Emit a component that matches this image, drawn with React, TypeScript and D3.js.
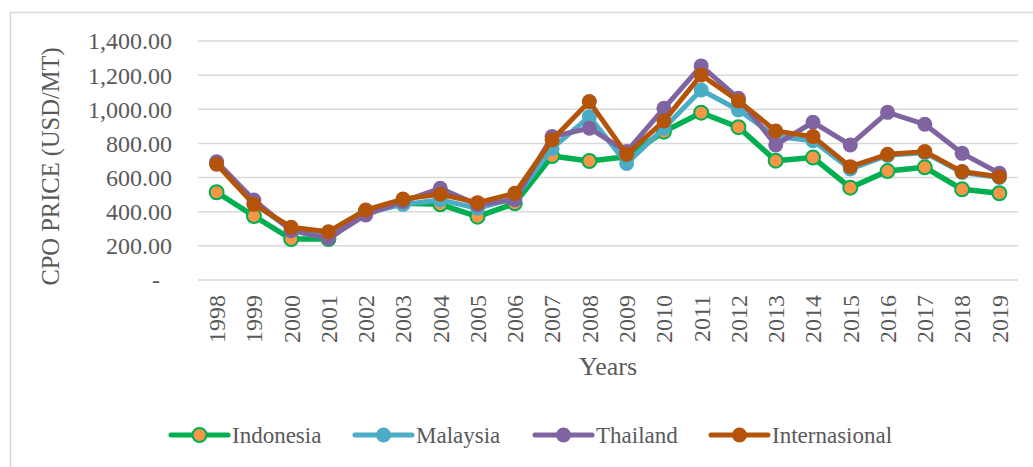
import React from "react";
import * as d3 from "d3";

const years = ["1998","1999","2000","2001","2002","2003","2004","2005","2006","2007","2008","2009","2010","2011","2012","2013","2014","2015","2016","2017","2018","2019"];
const indonesia = [514,375,240,240,400,449,443,371,449,726,697,722,869,980,895,699,717,541,638,660,531,508];
const malaysia = [682,450,295,255,390,443,469,420,480,771,957,683,889,1113,996,840,816,650,730,745,630,600];
const thailand = [693,469,289,244,381,460,537,440,470,840,889,752,1006,1254,1064,791,924,791,982,912,742,625];
const internasional = [678,443,309,283,410,474,502,453,508,820,1045,736,931,1201,1049,873,840,664,736,752,635,605];
const yTicks = [0,200,400,600,800,1000,1200,1400];
const seriesNames = ["Indonesia","Malaysia","Thailand","Internasional"];

const W = 1033, H = 467;
const FONT = "'Liberation Serif', 'Times New Roman', serif";
const TXT = "#595959";

const seriesStyle = [
  { line: "#00B050", fill: "#F79646", stroke: "#00B050" },
  { line: "#4BACC6", fill: "#4BACC6", stroke: "#4BACC6" },
  { line: "#8064A2", fill: "#8064A2", stroke: "#8064A2" },
  { line: "#B4540A", fill: "#B4540A", stroke: "#B4540A" },
];
const legendX = [171, 355, 535, 711];

export default function App() {
  const x = d3.scaleBand<string>().domain(years).range([198, 1018]);
  const y = d3.scaleLinear().domain([0, 1400]).range([280, 41]);
  const cx = (yr: string) => (x(yr) as number) + x.bandwidth() / 2;
  const data = [indonesia, malaysia, thailand, internasional];
  const line = d3.line<number>().x((_, i) => cx(years[i])).y((v) => y(v));
  const fmt = d3.format(",.2f");

  return (
    <div style={{ position: "fixed", left: 0, top: 0 }}>
      <svg width={W} height={H} style={{ display: "block", background: "#fff" }}>
        <rect x={10.5} y={12.5} width={1100} height={600} fill="#fff" stroke="#D9D9D9" strokeWidth={1.5} />
        {yTicks.map((t) => (
          <line key={t} x1={198} x2={1018} y1={y(t)} y2={y(t)} stroke="#D9D9D9" strokeWidth={1.5} />
        ))}
        {yTicks.map((t) => (
          <text key={"l" + t} x={t === 0 ? 160 : 172} y={y(t)} dy="0.35em" textAnchor="end" fontFamily={FONT} fontSize={24} fill={TXT}>
            {t === 0 ? "-" : fmt(t)}
          </text>
        ))}
        {years.map((yr) => (
          <text key={yr} transform={`translate(${cx(yr)},295) rotate(-90)`} dy="0.35em" textAnchor="end" fontFamily={FONT} fontSize={24} fill={TXT}>
            {yr}
          </text>
        ))}
        <text transform={`translate(50,${(41 + 280) / 2 + 6}) rotate(-90)`} dy="0.35em" textAnchor="middle" fontFamily={FONT} fontSize={24.5} fill={TXT}>
          CPO PRICE (USD/MT)
        </text>
        <text x={608} y={375} textAnchor="middle" fontFamily={FONT} fontSize={26} fill={TXT}>Years</text>
        {data.map((s, k) => (
          <g key={k}>
            <path d={line(s) || ""} fill="none" stroke={seriesStyle[k].line} strokeWidth={k === 0 ? 5.5 : 5} strokeLinejoin="round" strokeLinecap="round" />
            {s.map((v, i) => (
              <circle key={i} cx={cx(years[i])} cy={y(v)} r={k === 0 ? 7 : 7.5} fill={seriesStyle[k].fill} stroke={seriesStyle[k].stroke} strokeWidth={k === 0 ? 2 : 0} />
            ))}
          </g>
        ))}
        {seriesNames.map((n, k) => (
          <g key={n} transform={`translate(${legendX[k]},435)`}>
            <line x1={0} x2={57} y1={0} y2={0} stroke={seriesStyle[k].line} strokeWidth={5} strokeLinecap="round" />
            <circle cx={28.5} cy={0} r={k === 0 ? 7 : 7.5} fill={seriesStyle[k].fill} stroke={seriesStyle[k].stroke} strokeWidth={k === 0 ? 2 : 0} />
            <text x={61} y={0} dy="0.33em" fontFamily={FONT} fontSize={23} fill={TXT}>{n}</text>
          </g>
        ))}
      </svg>
    </div>
  );
}
